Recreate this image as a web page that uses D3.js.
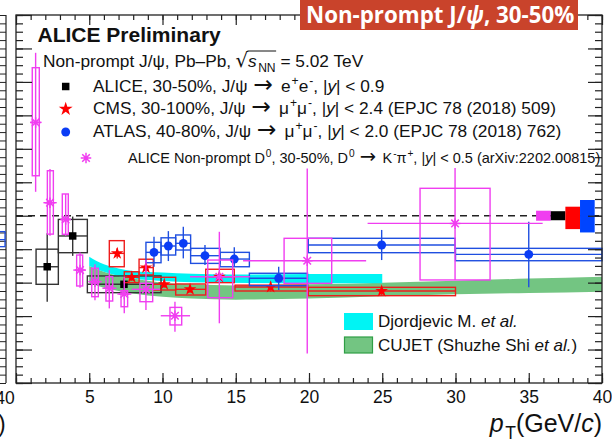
<!DOCTYPE html>
<html>
<head>
<meta charset="utf-8">
<script src="https://cdn.jsdelivr.net/npm/d3@7"></script>
<style>
  html, body { margin: 0; padding: 0; background: #fff; }
  svg { display: block; font-family: "Liberation Sans", Arial, Helvetica, sans-serif; }
</style>
</head>
<body>
<svg id="chart" width="612" height="447"></svg>
<script>
// ALICE non-prompt J/psi, 30-50% (e+e-)
var alicePts = [
  {pt: 2.13, xLo: 1.37, xHi: 2.89, val: 0.695, statLo: 0.486, statHi: 0.895, sysLo: 0.59,  sysHi: 0.80},
  {pt: 3.87, xLo: 2.89, xHi: 4.87, val: 0.879, statLo: 0.76,  statHi: 0.995, sysLo: 0.779, sysHi: 0.978},
  {pt: 7.37, xLo: 4.87, xHi: 9.9,  val: 0.59,  statLo: 0.555, statHi: 0.625, sysLo: 0.54,  sysHi: 0.64}
];

// CMS 30-100%
var cmsPts = [
  {pt: 6.91,  xLo: 6.37,  xHi: 7.39,  val: 0.775, statLo: 0.745, statHi: 0.805, sysLo: 0.695, sysHi: 0.851},
  {pt: 7.9,   xLo: 7.39,  xHi: 8.4,   val: 0.632, statLo: 0.61,  statHi: 0.655, sysLo: 0.60,  sysHi: 0.665},
  {pt: 8.87,  xLo: 8.4,   xHi: 9.37,  val: 0.69,  statLo: 0.665, statHi: 0.715, sysLo: 0.646, sysHi: 0.74},
  {pt: 10.12, xLo: 9.37,  xHi: 10.9,  val: 0.59,  statLo: 0.57,  statHi: 0.61,  sysLo: 0.556, sysHi: 0.632},
  {pt: 11.88, xLo: 10.9,  xHi: 12.95, val: 0.56,  statLo: 0.54,  statHi: 0.58,  sysLo: 0.526, sysHi: 0.592},
  {pt: 13.88, xLo: 12.95, xHi: 14.9,  val: 0.635, statLo: 0.615, statHi: 0.655, sysLo: 0.60,  sysHi: 0.68},
  {pt: 17.38, xLo: 14.95, xHi: 19.9,  val: 0.574, statLo: 0.546, statHi: 0.605, sysLo: 0.55,  sysHi: 0.585},
  {pt: 24.96, xLo: 19.95, xHi: 30.0,  val: 0.55,  statLo: 0.525, statHi: 0.575, sysLo: 0.522, sysHi: 0.572}
];

// ATLAS 40-80%
var atlasPts = [
  {pt: 9.42,  xLo: 8.87,  xHi: 9.9,   val: 0.781, statLo: 0.695, statHi: 0.874, sysLo: 0.719, sysHi: 0.841},
  {pt: 10.4,  xLo: 9.9,   xHi: 10.9,  val: 0.819, statLo: 0.729, statHi: 0.908, sysLo: 0.765, sysHi: 0.868},
  {pt: 11.42, xLo: 10.9,  xHi: 11.92, val: 0.835, statLo: 0.745, statHi: 0.934, sysLo: 0.795, sysHi: 0.885},
  {pt: 12.9,  xLo: 11.92, xHi: 13.93, val: 0.761, statLo: 0.705, statHi: 0.825, sysLo: 0.715, sysHi: 0.805},
  {pt: 14.9,  xLo: 13.93, xHi: 15.93, val: 0.741, statLo: 0.695, statHi: 0.811, sysLo: 0.695, sysHi: 0.781},
  {pt: 17.93, xLo: 15.93, xHi: 19.9,  val: 0.626, statLo: 0.556, statHi: 0.695, sysLo: 0.582, sysHi: 0.656},
  {pt: 24.96, xLo: 19.95, xHi: 29.97, val: 0.825, statLo: 0.735, statHi: 0.915, sysLo: 0.779, sysHi: 0.865},
  {pt: 35.0,  xLo: 30.0,  xHi: 40.0,  val: 0.769, statLo: 0.572, statHi: 0.964, sysLo: 0.731, sysHi: 0.805}
];

// ALICE non-prompt D0 (box width differs from x error)
var d0Pts = [
  {pt: 1.34,  xLo: 0.96,  xHi: 1.75,  bLo: 1.11,  bHi: 1.59,  val: 1.558, statLo: 1.143, statHi: 1.974, sysLo: 1.239, sysHi: 1.885},
  {pt: 2.32,  xLo: 1.87,  xHi: 2.78,  bLo: 2.14,  bHi: 2.55,  val: 1.078, statLo: 0.88,  statHi: 1.28,  sysLo: 0.89,  sysHi: 1.269},
  {pt: 3.39,  xLo: 3.05,  xHi: 3.73,  bLo: 3.16,  bHi: 3.57,  val: 0.978, statLo: 0.88,  statHi: 1.13,  sysLo: 0.889, sysHi: 1.13},
  {pt: 4.37,  xLo: 3.91,  xHi: 4.78,  bLo: 4.14,  bHi: 4.55,  val: 0.675, statLo: 0.57,  statHi: 0.78,  sysLo: 0.58,  sysHi: 0.765},
  {pt: 5.39,  xLo: 4.94,  xHi: 5.85,  bLo: 5.17,  bHi: 5.62,  val: 0.606, statLo: 0.494, statHi: 0.71,  sysLo: 0.516, sysHi: 0.686},
  {pt: 6.37,  xLo: 5.9,   xHi: 6.85,  bLo: 6.14,  bHi: 6.6,   val: 0.566, statLo: 0.446, statHi: 0.675, sysLo: 0.49,  sysHi: 0.635},
  {pt: 7.39,  xLo: 6.92,  xHi: 7.87,  bLo: 7.17,  bHi: 7.62,  val: 0.532, statLo: 0.417, statHi: 0.635, sysLo: 0.456, sysHi: 0.552},
  {pt: 8.87,  xLo: 7.9,   xHi: 9.83,  bLo: 8.46,  bHi: 9.33,  val: 0.56,  statLo: 0.436, statHi: 0.735, sysLo: 0.486, sysHi: 0.596},
  {pt: 10.85, xLo: 9.88,  xHi: 11.88, bLo: 10.51, bHi: 11.31, val: 0.402, statLo: 0.307, statHi: 0.486, sysLo: 0.347, sysHi: 0.452},
  {pt: 13.88, xLo: 11.88, xHi: 15.97, bLo: 13.09, bHi: 14.79, val: 0.635, statLo: 0.357, statHi: 0.904, sysLo: 0.51,  sysHi: 0.735},
  {pt: 19.88, xLo: 15.5,  xHi: 23.9,  bLo: 18.3,  bHi: 21.55, val: 0.731, statLo: 0.177, statHi: 1.283, sysLo: 0.596, sysHi: 0.865},
  {pt: 29.97, xLo: 24.0,  xHi: 35.95, bLo: 27.58, bHi: 32.36, val: 0.954, statLo: 0.616, statHi: 1.285, sysLo: 0.616, sysHi: 1.164}
];

// global normalisation uncertainties, drawn near RAA = 1
var normPt = [36, 37, 38, 39];
var normLo = [0.97, 0.973, 0.92, 0.90];
var normHi = [1.03, 1.027, 1.054, 1.094];

// model bands
var djordjevicPt = [5, 5.5, 6, 7, 8, 10, 12, 16, 20, 25];
var djordjevicLo = [0.700, 0.682, 0.665, 0.640, 0.625, 0.610, 0.603, 0.598, 0.596, 0.596];
var djordjevicHi = [0.755, 0.730, 0.710, 0.685, 0.670, 0.660, 0.653, 0.648, 0.652, 0.652];

var cujetPt = [5, 6, 7, 8, 10, 12, 15, 20, 25, 30, 35, 40];
var cujetLo = [0.600, 0.570, 0.550, 0.535, 0.515, 0.505, 0.498, 0.505, 0.518, 0.530, 0.538, 0.546];
var cujetHi = [0.700, 0.665, 0.640, 0.625, 0.600, 0.590, 0.583, 0.590, 0.600, 0.612, 0.624, 0.635];

// a sliver of the neighbouring panel on the left
var leftPanelBox = {lo: 0.815, mid: 0.857, hi: 0.905};

var xTickLabels = [5, 10, 15, 20, 25, 30, 35, 40];

var colAlice = "#333", colCms = "#ee1c1c", colAtlas = "#1f4fe0", colD0 = "#f03ef0";

var svg = d3.select("#chart");
var x = d3.scaleLinear().domain([0, 40]).range([16, 602]);
var y = d3.scaleLinear().domain([0, 2.2]).range([383, 15]);

// ROOT style "*" marker
var asterisk = {
  draw: function(ctx, size) {
    var r = Math.sqrt(size) / 2, q = r * 0.72;
    ctx.moveTo(-r, 0); ctx.lineTo(r, 0);
    ctx.moveTo(0, -r); ctx.lineTo(0, r);
    ctx.moveTo(-q, -q); ctx.lineTo(q, q);
    ctx.moveTo(-q, q); ctx.lineTo(q, -q);
  }
};

// left neighbour panel remnant
var lp = svg.append("g");
lp.append("g").attr("transform", "translate(6,0)")
  .call(d3.axisLeft(y).tickValues(d3.range(0, 2.2001, 0.05)).tickSize(9).tickFormat(""))
  .call(g => g.select(".domain").remove())
  .selectAll("line").attr("stroke", "#222");
lp.append("line").attr("x1", 6).attr("x2", 6).attr("y1", y(2.2)).attr("y2", y(0))
  .attr("stroke", "#222").attr("stroke-width", 1.2);
lp.append("rect").attr("x", -10).attr("width", 15)
  .attr("y", y(leftPanelBox.hi)).attr("height", y(leftPanelBox.lo) - y(leftPanelBox.hi))
  .attr("fill", "none").attr("stroke", colAtlas).attr("stroke-width", 1.3);
lp.append("line").attr("x1", -10).attr("x2", 5).attr("y1", y(leftPanelBox.mid)).attr("y2", y(leftPanelBox.mid))
  .attr("stroke", colAtlas).attr("stroke-width", 1.3);
lp.append("text").attr("x", 5).attr("y", 403.5).attr("text-anchor", "middle")
  .attr("font-size", 17.5).attr("fill", "#111").text("40");
lp.append("text").attr("x", -2).attr("y", 431.5).attr("font-size", 23).attr("fill", "#111").text(")");

// model bands
var band = d3.area().x(d => x(d[0])).y0(d => y(d[1])).y1(d => y(d[2])).curve(d3.curveMonotoneX);
svg.append("path").datum(cujetPt.map((p, i) => [p, cujetLo[i], cujetHi[i]]))
  .attr("d", band).attr("fill", "#73c582");
svg.append("path").datum(djordjevicPt.map((p, i) => [p, djordjevicLo[i], djordjevicHi[i]]))
  .attr("d", band).attr("fill", "#00f4f4");

// RAA = 1 reference
svg.append("line").attr("x1", x(0)).attr("x2", x(40)).attr("y1", y(1)).attr("y2", y(1))
  .attr("stroke", "#222").attr("stroke-width", 1.3).attr("stroke-dasharray", "7,5");

// normalisation boxes
var normCols = [colD0, "#000", "#f00", "#0044ff"];
svg.append("g").selectAll("rect").data(normPt).join("rect")
  .attr("x", d => x(d - 0.5)).attr("width", d => x(d + 0.5) - x(d - 0.5))
  .attr("y", (d, i) => y(normHi[i])).attr("height", (d, i) => y(normLo[i]) - y(normHi[i]))
  .attr("fill", (d, i) => normCols[i]);

function drawSeries(data, color, marker, size, filled, markCol) {
  var g = svg.append("g");
  g.selectAll("rect").data(data).join("rect")
    .attr("x", d => x(d.bLo !== undefined ? d.bLo : d.xLo))
    .attr("width", d => d.bLo !== undefined ? x(d.bHi) - x(d.bLo) : x(d.xHi) - x(d.xLo))
    .attr("y", d => y(d.sysHi)).attr("height", d => y(d.sysLo) - y(d.sysHi))
    .attr("fill", "none").attr("stroke", color).attr("stroke-width", 1.4);
  g.selectAll("line.ex").data(data).join("line").attr("class", "ex")
    .attr("x1", d => x(d.xLo)).attr("x2", d => x(d.xHi))
    .attr("y1", d => y(d.val)).attr("y2", d => y(d.val))
    .attr("stroke", color).attr("stroke-width", 1.4);
  g.selectAll("line.ey").data(data).join("line").attr("class", "ey")
    .attr("x1", d => x(d.pt)).attr("x2", d => x(d.pt))
    .attr("y1", d => y(d.statHi)).attr("y2", d => y(d.statLo))
    .attr("stroke", color).attr("stroke-width", 1.4);
  g.selectAll("path").data(data).join("path")
    .attr("transform", d => `translate(${x(d.pt)},${y(d.val)})`)
    .attr("d", d3.symbol().type(marker).size(size))
    .attr("fill", filled ? (markCol || color) : "none")
    .attr("stroke", markCol || color).attr("stroke-width", filled ? 0 : 1.5);
}

drawSeries(alicePts, colAlice, d3.symbolSquare, 56, true, "#000");
drawSeries(cmsPts, colCms, d3.symbolStar, 50, true, "#f00");
drawSeries(atlasPts, colAtlas, d3.symbolCircle, 62, true, "#0a3cf5");
drawSeries(d0Pts, colD0, asterisk, 110, false);

// frame and axes
var frame = svg.append("g");
frame.append("rect").attr("x", x(0)).attr("y", y(2.2)).attr("width", x(40) - x(0)).attr("height", y(0) - y(2.2))
  .attr("fill", "none").attr("stroke", "#222").attr("stroke-width", 1.3);

function axis(gen, tx, ty) {
  frame.append("g").attr("transform", `translate(${tx},${ty})`).call(gen)
    .call(g => g.select(".domain").remove())
    .call(g => g.selectAll("line").attr("stroke", "#222").attr("stroke-width", 1.2));
}
axis(d3.axisBottom(x).tickValues(d3.range(0, 41, 1)).tickSize(-5).tickFormat(""), 0, y(0));
axis(d3.axisBottom(x).tickValues(d3.range(0, 41, 5)).tickSize(-10).tickFormat(""), 0, y(0));
axis(d3.axisTop(x).tickValues(d3.range(0, 41, 1)).tickSize(-5).tickFormat(""), 0, y(2.2));
axis(d3.axisTop(x).tickValues(d3.range(0, 41, 5)).tickSize(-10).tickFormat(""), 0, y(2.2));
axis(d3.axisLeft(y).tickValues(d3.range(0, 2.2001, 0.05)).tickSize(-7).tickFormat(""), x(0), 0);
axis(d3.axisLeft(y).tickValues(d3.range(0, 2.2001, 0.2)).tickSize(-16).tickFormat(""), x(0), 0);
axis(d3.axisRight(y).tickValues(d3.range(0, 2.2001, 0.05)).tickSize(-7).tickFormat(""), x(40), 0);
axis(d3.axisRight(y).tickValues(d3.range(0, 2.2001, 0.2)).tickSize(-14).tickFormat(""), x(40), 0);

var xLab = frame.append("g").attr("transform", `translate(0,${y(0)})`)
  .call(d3.axisBottom(x).tickValues(xTickLabels).tickSize(0).tickPadding(8));
xLab.select(".domain").remove();
xLab.selectAll("text").attr("font-size", 17.5).attr("fill", "#111")
  .attr("font-family", "'Liberation Sans', Arial, sans-serif");

// rich text helper: runs of {t, s: 'sup'|'sub', i: italic, a: arrow/radical glyph, dx}
function rich(textSel, runs, fs) {
  var off = 0;
  runs.forEach(function(r) {
    var target = r.s === "sup" ? -0.38 * fs : r.s === "sub" ? 0.3 * fs : 0;
    var ts = textSel.append("tspan").attr("dy", target - off).text(r.t);
    off = target;
    if (r.s) ts.attr("font-size", fs * 0.7).attr("dx", 0.06 * fs);
    if (r.i) ts.attr("font-style", "italic");
    if (r.a) ts.attr("font-family", "'DejaVu Sans', sans-serif").attr("font-size", fs * r.a);
    if (r.dx) ts.attr("dx", r.dx * fs);
    if (r.id) ts.attr("class", r.id);
  });
  return textSel;
}

// x title
rich(svg.append("text").attr("x", 602).attr("y", 431.5).attr("text-anchor", "end")
  .attr("font-size", 25).attr("fill", "#111"),
  [{t: "p", i: 1}, {t: "T", s: "sub"}, {t: "(GeV/"}, {t: "c", i: 1}, {t: ")"}], 25);

// header texts
svg.append("text").attr("x", 37.5).attr("y", 41.5).attr("font-size", 21).attr("font-weight", "bold")
  .attr("fill", "#111").text("ALICE Preliminary");

var hdr = rich(svg.append("text").attr("x", 43).attr("y", 67).attr("font-size", 17.3).attr("fill", "#111"),
  [{t: "Non-prompt J/ψ, Pb–Pb,"}, {t: "√", a: 1.15, dx: 0.25, id: "rad"}, {t: "s", i: 1, id: "sv"},
   {t: "NN", s: "sub", dx: 0.08, id: "nn"}, {t: " = 5.02 TeV"}], 17.3);
var radBox = hdr.select(".rad").node().getBBox();
var nnBox = hdr.select(".nn").node().getBBox();
svg.append("line").attr("x1", radBox.x + radBox.width - 1).attr("x2", nnBox.x + nnBox.width + 0.5)
  .attr("y1", radBox.y + 2).attr("y2", radBox.y + 2).attr("stroke", "#111").attr("stroke-width", 1);

var arrow = {t: "→", a: 1.35, dx: 0.35};
var legRows = [
  [{t: "ALICE, 30-50%, J/ψ"}, arrow, {t: "e", dx: 0.45}, {t: "+", s: "sup"}, {t: "e"}, {t: "-", s: "sup"},
   {t: ", |"}, {t: "y", i: 1}, {t: "| < 0.9"}],
  [{t: "CMS, 30-100%, J/ψ"}, arrow, {t: "μ", dx: 0.45}, {t: "+", s: "sup"}, {t: "μ"}, {t: "-", s: "sup"},
   {t: ", |"}, {t: "y", i: 1}, {t: "| < 2.4 (EPJC 78 (2018) 509)"}],
  [{t: "ATLAS, 40-80%, J/ψ"}, arrow, {t: "μ", dx: 0.45}, {t: "+", s: "sup"}, {t: "μ"}, {t: "-", s: "sup"},
   {t: ", |"}, {t: "y", i: 1}, {t: "| < 2.0 (EPJC 78 (2018) 762)"}]
];
var legY = [91.5, 114, 137];
var legMarkers = [d3.symbolSquare, d3.symbolStar, d3.symbolCircle];
var legCols = ["#000", "#f00", "#0a3cf5"];
var legSizes = [56, 60, 62];
legRows.forEach(function(runs, i) {
  rich(svg.append("text").attr("x", 93).attr("y", legY[i]).attr("font-size", 17.3).attr("fill", "#111"), runs, 17.3);
  svg.append("path").attr("transform", `translate(65.7,${legY[i] - 5})`)
    .attr("d", d3.symbol().type(legMarkers[i]).size(legSizes[i])).attr("fill", legCols[i]);
});
rich(svg.append("text").attr("x", 128).attr("y", 163).attr("font-size", 14.5).attr("fill", "#111"),
  [{t: "ALICE Non-prompt D"}, {t: "0", s: "sup"}, {t: ", 30-50%, D"}, {t: "0", s: "sup"}, arrow,
   {t: "K", dx: 0.45}, {t: "-", s: "sup"}, {t: "π"}, {t: "+", s: "sup"}, {t: ", |"}, {t: "y", i: 1},
   {t: "| < 0.5 (arXiv:2202.00815)"}], 14.5);
svg.append("path").attr("transform", "translate(86,158)")
  .attr("d", d3.symbol().type(asterisk).size(110)).attr("fill", "none").attr("stroke", colD0).attr("stroke-width", 1.5);

// model legend
svg.append("rect").attr("x", 344).attr("y", 313).attr("width", 29).attr("height", 17).attr("fill", "#00f4f4");
svg.append("rect").attr("x", 344.5).attr("y", 337).attr("width", 28).attr("height", 16)
  .attr("fill", "#73c582").attr("stroke", "#2f9e45").attr("stroke-width", 1.2);
rich(svg.append("text").attr("x", 378).attr("y", 327).attr("font-size", 17).attr("fill", "#111"),
  [{t: "Djordjevic M. "}, {t: "et al.", i: 1}], 17);
rich(svg.append("text").attr("x", 378).attr("y", 350.5).attr("font-size", 17).attr("fill", "#111"),
  [{t: "CUJET (Shuzhe Shi "}, {t: "et al.", i: 1}, {t: ")"}], 17);

// title badge
svg.append("rect").attr("x", 300).attr("y", 0).attr("width", 278).attr("height", 30).attr("fill", "#c9432b");
rich(svg.append("text").attr("x", 306).attr("y", 23).attr("font-size", 22.3).attr("font-weight", "bold")
  .attr("font-family", "'Open Sans', sans-serif").attr("fill", "#fff"),
  [{t: "Non-prompt J/"}, {t: "ψ", i: 1}, {t: ", 30-50%"}], 22.3);
</script>
</body>
</html>
